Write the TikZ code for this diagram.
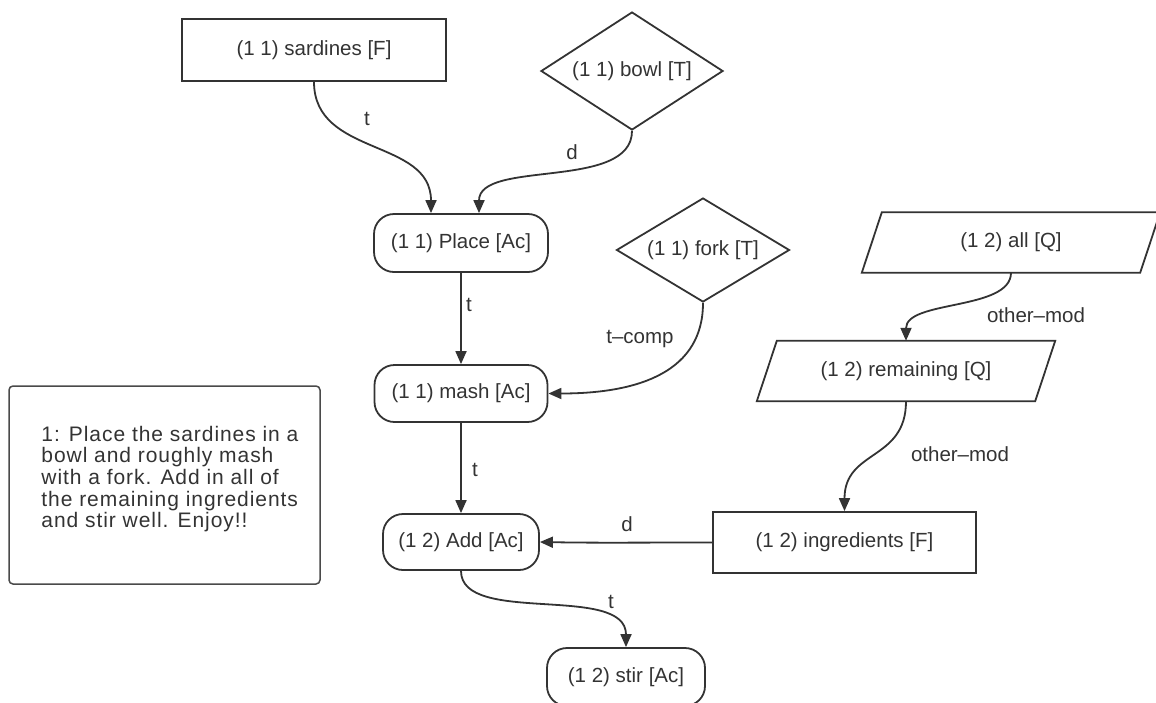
\documentclass[tikz,border=0pt]{standalone}
\usepackage{fontspec}
\setmainfont{Liberation Sans}
\newfontfamily\notefont[LetterSpace=4.5]{Liberation Sans}
\usetikzlibrary{shapes.geometric,arrows.meta,calc}
\definecolor{ink}{HTML}{333333}
\definecolor{frame}{HTML}{4A4A4A}

\begin{document}
\begin{tikzpicture}[x=1pt,y=-1pt,
  every node/.append style={text=ink, font=\fontsize{20.5}{24}\selectfont},
  plainbox/.style={draw=ink, line width=1.8pt, rectangle, inner sep=0pt},
  actbox/.style={draw=ink, line width=1.8pt, rectangle, rounded corners=20pt, inner sep=0pt},
  toolbox/.style={draw=ink, line width=1.8pt, diamond, inner sep=0pt},
  quantbox/.style={rectangle, inner sep=0pt, minimum width=278pt, minimum height=60pt},
  slant/.style={draw=ink, line width=1.8pt, line join=miter},
  arr/.style={draw=ink, line width=1.8pt, -{Triangle[length=13pt,width=11pt]}},
  lbl/.style={inner sep=0pt, anchor=center},
  notebox/.style={draw=frame, line width=1.5pt, rounded corners=4pt, inner sep=0pt},
]
\useasboundingbox (0,0) rectangle (1156,702);

% ---- nodes ----
\node[plainbox, minimum width=264pt, minimum height=62pt] (sard) at (314,50) {(1 1) sardines [F]};
\node[toolbox, aspect=1.54, minimum width=182pt, minimum height=118pt] (bowl) at (632,71) {(1 1) bowl [T]};
\node[actbox, minimum width=174pt, minimum height=58pt] (place) at (461,243) {(1 1) Place [Ac]};
\node[toolbox, aspect=1.66, minimum width=173pt, minimum height=104pt] (fork) at (703,250) {(1 1) fork [T]};
\node[actbox, minimum width=173pt, minimum height=57pt] (mash) at (461,393.5) {(1 1) mash [Ac]};
\node[quantbox] (all) at (1011,242.5) {(1 2) all [Q]};
\node[quantbox] (rem) at (906,371) {(1 2) remaining [Q]};
\node[plainbox, minimum width=263pt, minimum height=61pt] (ingr) at (844.5,542.5) {(1 2) ingredients [F]};
\node[actbox, minimum width=156pt, minimum height=56pt] (add) at (461,542) {(1 2) Add [Ac]};
\node[actbox, minimum width=158pt, minimum height=58pt] (stir) at (626,677) {(1 2) stir [Ac]};

% slanted outlines of the quantity nodes
\foreach \q in {all,rem}{
  \draw[slant] ($(\q.south west)+(-10,0)$) -- ($(\q.south east)+(-10,0)$)
    -- ($(\q.north east)+(10,0)$) -- ($(\q.north west)+(10,0)$) -- cycle;
}

% recipe text
\node[notebox, minimum width=311pt, minimum height=198pt] (note) at (164.5,485) {};
\node[anchor=west, inner sep=0pt, align=left,
      font=\notefont\fontsize{21}{21.7}\selectfont] (notetext) at ($(note.west)+(33,-6)$)
  {1: Place the sardines in a\\bowl and roughly mash\\with a fork. Add in all of\\the remaining ingredients\\and stir well. Enjoy!!};

% ---- connectors ----
\draw[arr] (sard.south) .. controls +(0,75) and +(0,-75) .. ($(place.north)+(-30,0)$);
\draw[arr] (bowl.south) .. controls +(0,60) and +(0,-54) .. ($(place.north)+(18,0)$);
\draw[arr] (place.south) -- (mash.north);
\draw[arr] (fork.south) .. controls +(0,68) and +(92,0) .. (mash.east);
\draw[arr] (all.south) .. controls +(0,38) and +(0,-41) .. (rem.north);
\draw[arr] (rem.south) .. controls +(0,60) and +(0,-62) .. (ingr.north);
\draw[arr] (mash.south) -- (add.north);
\draw[arr] (ingr.west) .. controls +(-80,0) and +(60,1) .. (add.east);
\draw[arr] (add.south) .. controls +(0,55) and +(0,-64) .. (stir.north);

% ---- edge labels ----
\node[lbl] (l1) at (367,119) {t};
\node[lbl] (l2) at (572,152) {d};
\node[lbl] (l3) at (469,305) {t};
\node[lbl] (l4) at (640,339) {t--comp};
\node[lbl] (l5) at (1036,315) {other--mod};
\node[lbl] (l6) at (960,454) {other--mod};
\node[lbl] (l7) at (475,470) {t};
\node[lbl] (l8) at (627,524) {d};
\node[lbl] (l9) at (611,602) {t};
\end{tikzpicture}
\end{document}
